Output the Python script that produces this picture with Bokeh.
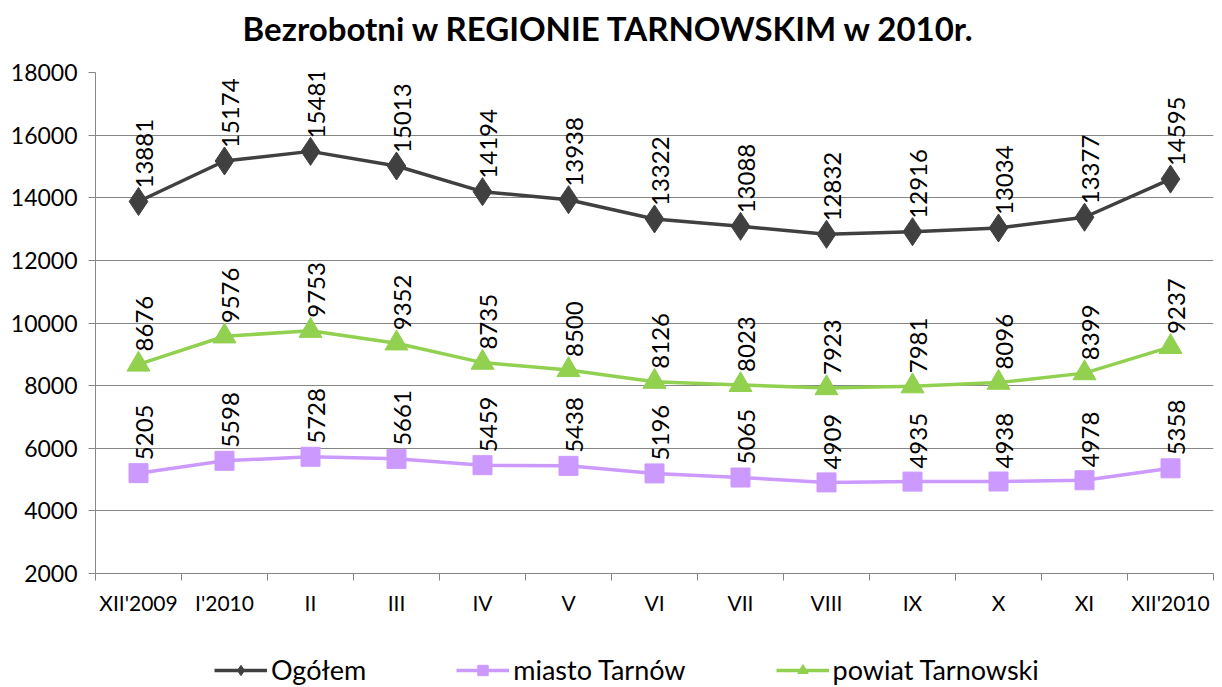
import math
from bokeh.plotting import figure
from bokeh.layouts import column
from bokeh.models import (ColumnDataSource, FixedTicker, Range1d, Legend, LegendItem, Label)
from bokeh.core.properties import value
from bokeh.embed import file_html
from bokeh.resources import INLINE

categories = ["XII'2009", "I'2010", "II", "III", "IV", "V", "VI", "VII", "VIII", "IX", "X", "XI", "XII'2010"]
ogolem = [13881, 15174, 15481, 15013, 14194, 13938, 13322, 13088, 12832, 12916, 13034, 13377, 14595]
miasto = [5205, 5598, 5728, 5661, 5459, 5438, 5196, 5065, 4909, 4935, 4938, 4978, 5358]
powiat = [8676, 9576, 9753, 9352, 8735, 8500, 8126, 8023, 7923, 7981, 8096, 8399, 9237]
y_ticks = list(range(2000, 18001, 2000))
title_text = "Bezrobotni w REGIONIE TARNOWSKIM w 2010r."

FONT = "Lato"
W = 1214
xs = [i + 0.5 for i in range(len(categories))]

# ---- title strip (frame is aligned with the chart frame by the column) ----
p0 = figure(width=W, height=58, output_backend="svg", toolbar_location=None,
            x_axis_type=None, y_axis_type=None, min_border=0,
            x_range=Range1d(0, 1118), y_range=Range1d(0, 58))
p0.outline_line_color = None
p0.xgrid.visible = False
p0.ygrid.visible = False
p0.add_layout(Label(x=514, y=31, text=title_text, text_align="center",
                    text_baseline="middle", text_font=FONT, text_font_style="bold",
                    text_font_size="33px", text_color="#000000"))

# ---- main chart ----
p = figure(width=W, height=568, output_backend="svg", toolbar_location=None,
           x_range=Range1d(0, len(categories)), y_range=Range1d(2000, 18000),
           frame_width=1118, frame_height=501,
           min_border_left=95, min_border_right=1, min_border_top=14, min_border_bottom=50)
p.outline_line_color = None
p.background_fill_color = "white"

p.xgrid.visible = False
p.ygrid.grid_line_color = "#868686"
p.ygrid.grid_line_width = 1
p.yaxis.ticker = FixedTicker(ticks=y_ticks)
p.yaxis.axis_line_color = "#868686"
p.yaxis.major_tick_line_color = "#868686"
p.yaxis.major_tick_out = 7
p.yaxis.major_tick_in = 0
p.yaxis.minor_tick_line_color = None
p.yaxis.major_label_text_font = FONT
p.yaxis.major_label_text_font_size = "23px"
p.yaxis.major_label_text_color = "#000000"
p.yaxis.major_label_standoff = 11

p.xaxis.ticker = FixedTicker(ticks=xs, minor_ticks=list(range(len(categories) + 1)))
p.xaxis.major_label_overrides = {x: c for x, c in zip(xs, categories)}
p.xaxis.axis_line_color = "#868686"
p.xaxis.major_tick_line_color = None
p.xaxis.major_tick_out = 0
p.xaxis.major_tick_in = 0
p.xaxis.minor_tick_line_color = "#868686"
p.xaxis.minor_tick_out = 7
p.xaxis.minor_tick_in = 0
p.xaxis.major_label_text_font = FONT
p.xaxis.major_label_text_font_size = "21px"
p.xaxis.major_label_text_color = "#000000"
p.xaxis.major_label_standoff = 9

series = [
    ("Ogółem", ogolem, "#404040", "diamond", 28),
    ("miasto Tarnów", miasto, "#CC99FF", "square", 19),
    ("powiat Tarnowski", powiat, "#92D050", "triangle", 23),
]

for name, vals, color, marker, size in series:
    src = ColumnDataSource(dict(x=xs, y=vals, lbl=[str(v) for v in vals]))
    p.line("x", "y", source=src, line_color=color, line_width=3.5)
    p.scatter("x", "y", source=src, marker=marker, size=size,
              fill_color=color, line_color=color)
    p.text("x", "y", text="lbl", source=src, angle=math.pi / 2,
           text_align="left", text_baseline="middle",
           x_offset=6, y_offset=-13,
           text_font=value(FONT), text_font_size="24px", text_color="#000000")

# ---- legend strip ----
p2 = figure(width=W, height=64, output_backend="svg", toolbar_location=None,
            x_axis_type=None, y_axis_type=None, min_border=0,
            x_range=Range1d(-100, -99), y_range=Range1d(-100, -99))
p2.outline_line_color = None
p2.xgrid.visible = False
p2.ygrid.visible = False
items = []
for name, vals, color, marker, size in series:
    src2 = ColumnDataSource(dict(x=xs, y=vals))
    r1 = p2.line("x", "y", source=src2, line_color=color, line_width=3.5)
    r2 = p2.scatter("x", "y", source=src2, marker=marker, size=size * 0.85,
                    fill_color=color, line_color=color)
    items.append(LegendItem(label=name, renderers=[r1, r2]))

legend = Legend(items=items, orientation="horizontal", location=(119, 1),
                label_text_font=FONT, label_text_font_size="27px",
                label_text_color="#000000", glyph_width=53, glyph_height=26,
                label_height=26, label_standoff=4, spacing=90,
                border_line_color=None, background_fill_alpha=0,
                margin=0, padding=0)
p2.add_layout(legend, "center")

open("out.html", "w").write(file_html(column(p0, p, p2, spacing=0), INLINE))
